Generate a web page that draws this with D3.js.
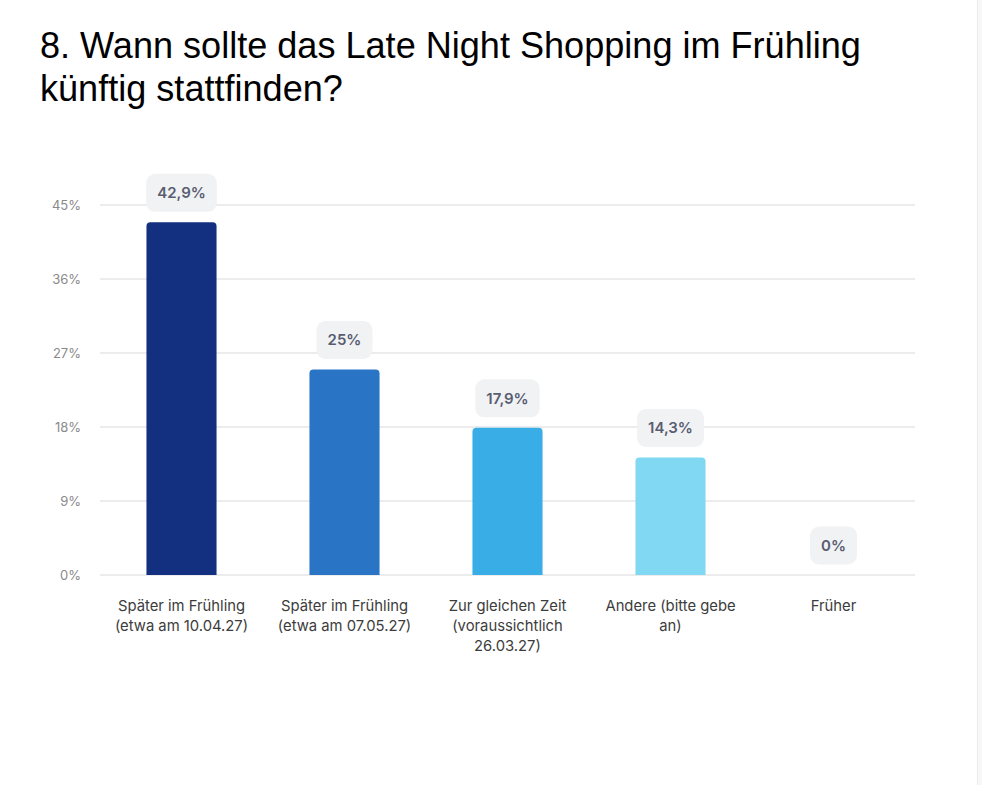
<!DOCTYPE html>
<meta charset="utf-8">
<html lang="de">
<head>
  <title>Late Night Shopping</title>
  <script src="https://d3js.org/d3.v7.min.js"></script>
  <style>
    body { margin: 0; background: #fff; }
  </style>
</head>
<body>
<script>
// data
var categories = [
  "Später im Frühling (etwa am 10.04.27)",
  "Später im Frühling (etwa am 07.05.27)",
  "Zur gleichen Zeit (voraussichtlich 26.03.27)",
  "Andere (bitte gebe an)",
  "Früher"
];
var values = [42.9, 25, 17.9, 14.3, 0];
var valueLabels = ["42,9%", "25%", "17,9%", "14,3%", "0%"];
var yTicks = [0, 9, 18, 27, 36, 45];
var barColors = ["#12307f", "#2a74c5", "#38ade6", "#80d8f3", "#80d8f3"];
var titleLines = ["8. Wann sollte das Late Night Shopping im Frühling", "künftig stattfinden?"];

var width = 982, height = 785;

var svg = d3.select("body").append("svg")
    .attr("width", width)
    .attr("height", height);

// grey side strip on the right
svg.append("rect")
    .attr("x", 977).attr("y", 0)
    .attr("width", 5).attr("height", height)
    .attr("fill", "#f7f7f7");
svg.append("line")
    .attr("x1", 977.5).attr("x2", 977.5)
    .attr("y1", 0).attr("y2", height)
    .attr("stroke", "#ececec");

// title
svg.append("g").selectAll("text")
    .data(titleLines)
  .enter().append("text")
    .attr("x", 40)
    .attr("y", function(d, i) { return 58 + i * 43; })
    .attr("font-family", "'Liberation Sans', Arial, sans-serif")
    .attr("font-size", 36.1)
    .attr("fill", "#000")
    .text(function(d) { return d; });

var x = d3.scaleBand()
    .domain(categories)
    .range([100, 915])
    .paddingInner(0.57)
    .paddingOuter(0.285);

var y = d3.scaleLinear()
    .domain([0, 45])
    .range([575, 205]);

// grid lines
svg.append("g").selectAll("line")
    .data(yTicks)
  .enter().append("line")
    .attr("x1", 100).attr("x2", 915)
    .attr("y1", function(d) { return y(d); })
    .attr("y2", function(d) { return y(d); })
    .attr("stroke", "#e6e6e6")
    .attr("stroke-width", 1.5);

// y axis
var yAxis = svg.append("g")
    .attr("transform", "translate(81,0)")
    .call(d3.axisLeft(y).tickValues(yTicks).tickSize(0).tickPadding(0)
      .tickFormat(function(d) { return d + "%"; }));
yAxis.select(".domain").remove();
yAxis.selectAll("text")
    .attr("font-family", "Inter, sans-serif")
    .attr("font-size", 13)
    .attr("fill", "#8a8a8a");

// bars with rounded tops
function barPath(x0, w, y0, y1, r) {
  var h = y1 - y0;
  if (h <= 0) return "";
  r = Math.min(r, h, w / 2);
  return "M" + x0 + "," + y1 +
    "V" + (y0 + r) +
    "Q" + x0 + "," + y0 + " " + (x0 + r) + "," + y0 +
    "H" + (x0 + w - r) +
    "Q" + (x0 + w) + "," + y0 + " " + (x0 + w) + "," + (y0 + r) +
    "V" + y1 + "Z";
}

svg.append("g").selectAll("path")
    .data(values)
  .enter().append("path")
    .attr("d", function(d, i) {
      return barPath(x(categories[i]), x.bandwidth(), y(d), y(0), 4);
    })
    .attr("fill", function(d, i) { return barColors[i]; });

// value badges
var badges = svg.append("g").selectAll("g")
    .data(values)
  .enter().append("g")
    .attr("transform", function(d, i) {
      return "translate(" + (x(categories[i]) + x.bandwidth() / 2) + "," + (y(d) - 29.5) + ")";
    });

badges.append("text")
    .attr("text-anchor", "middle")
    .attr("dy", "0.35em")
    .attr("font-family", "Inter, sans-serif")
    .attr("font-size", 15)
    .attr("font-weight", 600)
    .attr("fill", "#585d72")
    .text(function(d, i) { return valueLabels[i]; });

badges.insert("rect", "text")
    .each(function() {
      var t = d3.select(this.parentNode).select("text").node().getBBox();
      d3.select(this)
        .attr("x", -t.width / 2 - 11)
        .attr("y", -19)
        .attr("width", t.width + 22)
        .attr("height", 38)
        .attr("rx", 9);
    })
    .attr("fill", "#f1f2f3");

// category labels
function wrap(text, maxWidth) {
  text.each(function() {
    var t = d3.select(this),
        words = t.text().split(/\s+/),
        line = [],
        cx = t.attr("x"),
        tspan = t.text(null).append("tspan").attr("x", cx).attr("dy", 0);
    words.forEach(function(w) {
      line.push(w);
      tspan.text(line.join(" "));
      if (tspan.node().getComputedTextLength() > maxWidth && line.length > 1) {
        line.pop();
        tspan.text(line.join(" "));
        line = [w];
        tspan = t.append("tspan").attr("x", cx).attr("dy", 20).text(w);
      }
    });
  });
}

svg.append("g").selectAll("text")
    .data(categories)
  .enter().append("text")
    .attr("x", function(d) { return x(d) + x.bandwidth() / 2; })
    .attr("y", 611)
    .attr("text-anchor", "middle")
    .attr("font-family", "Inter, sans-serif")
    .attr("font-size", 14.8)
    .attr("fill", "#3c3c3c")
    .text(function(d) { return d; })
    .call(wrap, 145);
</script>
</body>
</html>
